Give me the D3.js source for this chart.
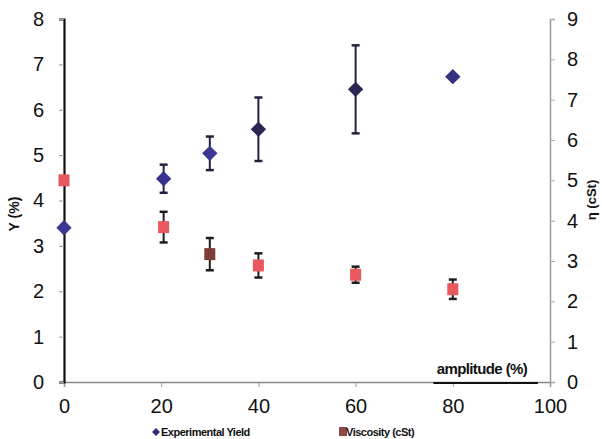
<!DOCTYPE html>
<html><head><meta charset="utf-8">
<script src="https://cdn.jsdelivr.net/npm/d3@7"></script>
<style>body{margin:0;background:#fff}svg{display:block;font-family:"Liberation Sans",Arial,sans-serif}</style>
</head><body><svg id="c" width="602" height="439"></svg>
<script>
const amplitude = [0, 20.5, 30, 40, 60, 80];
const yieldVals = [3.4, 4.48, 5.04, 5.57, 6.45, 6.73];
const yieldErr  = [0, 0.31, 0.37, 0.7, 0.97, 0];
const viscVals  = [5.0, 3.84, 3.17, 2.89, 2.66, 2.3];
const viscErr   = [0, 0.38, 0.4, 0.3, 0.2, 0.24];
const xTicks = [0, 20, 40, 60, 80, 100];
const yTicks = [0,1,2,3,4,5,6,7,8];
const y2Ticks = [0,1,2,3,4,5,6,7,8,9];
const seriesNames = ["Experimental Yield", "Viscosity (cSt)"];

const yieldColors = ["#3a3890","#363290","#3b3892","#2a2752","#2a2752","#34317e"];
const viscColors = ["#e8585e","#e8585e","#7c3d36","#e8585e","#e8585e","#e8585e"];

const svg = d3.select("#c");
const x = d3.scaleLinear().domain([0,100]).range([64,550]);
const y = d3.scaleLinear().domain([0,8]).range([382,19]);
const y2 = d3.scaleLinear().domain([0,9]).range([382,19]);

// bottom axis
const gx = svg.append("g").attr("transform","translate(0,382)")
  .call(d3.axisBottom(x).tickValues(xTicks).tickSize(5).tickPadding(12));
gx.select(".domain").attr("stroke","#888").attr("stroke-width",1.5);
gx.selectAll(".tick line").attr("stroke","#999");
gx.selectAll("text").attr("font-size",20).attr("fill","#111");

// left axis
const gy = svg.append("g").attr("transform","translate(64,0)")
  .call(d3.axisLeft(y).tickValues(yTicks).tickSize(5).tickPadding(15));
gy.select(".domain").attr("stroke","#111").attr("stroke-width",2.2);
gy.selectAll(".tick line").attr("stroke","#999");
gy.selectAll("text").attr("font-size",20).attr("fill","#111");

// right axis
const gy2 = svg.append("g").attr("transform","translate(550,0)")
  .call(d3.axisRight(y2).tickValues(y2Ticks).tickSize(5).tickPadding(12));
gy2.select(".domain").attr("stroke","#999").attr("stroke-width",1.5);
gy2.selectAll(".tick line").attr("stroke","#aaa");
gy2.selectAll("text").attr("font-size",20).attr("fill","#111");

// black segment under x title
svg.append("line").attr("x1",x(76)).attr("x2",x(97.5)).attr("y1",383).attr("y2",383)
  .attr("stroke","#111").attr("stroke-width",2);
svg.append("text").attr("x",x(86)).attr("y",374).attr("text-anchor","middle")
  .attr("font-size",15).attr("font-weight","bold").attr("letter-spacing",-0.6).attr("fill","#111").text("amplitude (%)");

// axis titles
svg.append("text").attr("transform","translate(19,214) rotate(-90)").attr("text-anchor","middle")
  .attr("font-size",14).attr("font-weight","bold").attr("fill","#111").text("Y (%)");
svg.append("text").attr("transform","translate(596,200) rotate(-90)").attr("text-anchor","middle")
  .attr("font-size",13).attr("font-weight","bold").attr("fill","#111").text("η (cSt)");

// error bars
function errBars(vals, errs, sc, col){
  const g = svg.append("g");
  amplitude.forEach((a,i)=>{
    if(!errs[i]) return;
    const cx = x(a), t = sc(vals[i]+errs[i]), b = sc(vals[i]-errs[i]);
    g.append("line").attr("x1",cx).attr("x2",cx).attr("y1",t).attr("y2",b).attr("stroke",col).attr("stroke-width",2);
    [t,b].forEach(yy=>g.append("line").attr("x1",cx-4).attr("x2",cx+4).attr("y1",yy).attr("y2",yy).attr("stroke",col).attr("stroke-width",2.5));
  });
}
errBars(viscVals, viscErr, y2, "#1e1e1e");
errBars(yieldVals, yieldErr, y, "#24213f");

// viscosity squares
svg.append("g").selectAll("rect").data(viscVals).join("rect")
  .attr("x",(d,i)=>x(amplitude[i])-5.5).attr("y",d=>y2(d)-6)
  .attr("width",11).attr("height",12).attr("fill",(d,i)=>viscColors[i]);

// yield diamonds
const dia = d3.symbol().type(d3.symbolDiamond2).size(150);
svg.append("g").selectAll("path").data(yieldVals).join("path")
  .attr("d",dia).attr("transform",(d,i)=>`translate(${x(amplitude[i])},${y(d)})`)
  .attr("fill",(d,i)=>yieldColors[i]);

// legend
const leg = svg.append("g").attr("font-size",11).attr("font-weight","bold").attr("fill","#111").attr("letter-spacing",-0.5);
leg.append("path").attr("d",d3.symbol().type(d3.symbolDiamond2).size(40)).attr("transform","translate(156,432)").attr("fill","#2e2c80");
leg.append("text").attr("x",161).attr("y",436).text(seriesNames[0]);
leg.append("rect").attr("x",339).attr("y",427).attr("width",8).attr("height",9).attr("fill","#8a4a45");
leg.append("text").attr("x",346).attr("y",436).text(seriesNames[1]);
</script></body></html>
